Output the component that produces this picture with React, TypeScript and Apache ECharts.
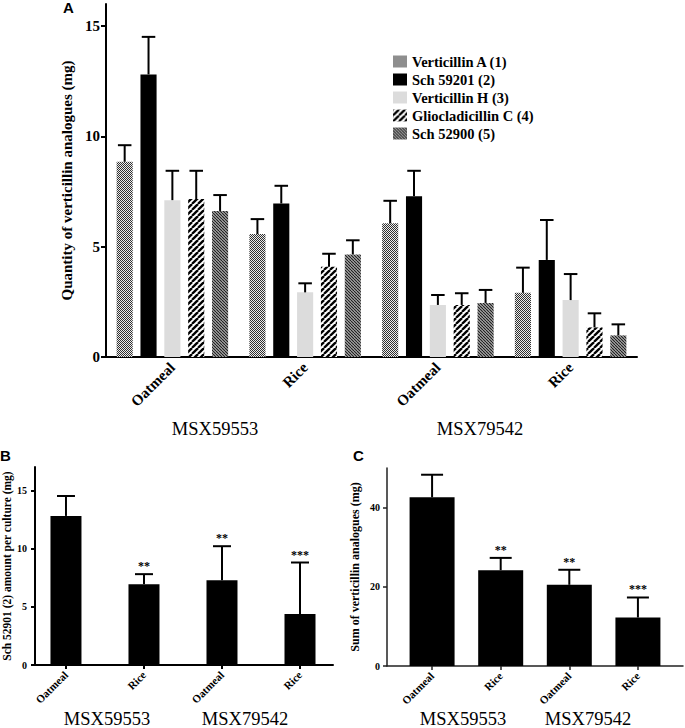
import React, { useEffect, useRef } from 'react';
import * as echarts from 'echarts';

// ---------- data ----------
const compounds = ['Verticillin A (1)', 'Sch 59201 (2)', 'Verticillin H (3)', 'Gliocladicillin C (4)', 'Sch 52900 (5)'];
const media = ['Oatmeal', 'Rice', 'Oatmeal', 'Rice'];
const strains = ['MSX59553', 'MSX79542'];

// Panel A: mean and SD per compound, order: 59553 Oatmeal, 59553 Rice, 79542 Oatmeal, 79542 Rice
const verticillinA = [8.85, 5.57, 6.06, 2.91];
const verticillinASd = [0.75, 0.68, 1.02, 1.14];
const sch59201 = [12.81, 6.96, 7.29, 4.4];
const sch59201Sd = [1.7, 0.8, 1.15, 1.81];
const verticillinH = [7.11, 2.93, 2.36, 2.58];
const verticillinHSd = [1.33, 0.41, 0.45, 1.18];
const gliocladicillinC = [7.16, 4.09, 2.36, 1.34];
const gliocladicillinCSd = [1.28, 0.59, 0.53, 0.64];
const sch52900 = [6.62, 4.65, 2.45, 0.98];
const sch52900Sd = [0.72, 0.64, 0.59, 0.5];

// Panel B: Sch 52901 (2) amount per culture
const panelB = [12.8, 6.94, 7.28, 4.37];
const panelBSd = [1.71, 0.86, 2.92, 4.43];
// Panel C: sum of verticillin analogues
const panelC = [42.6, 24.2, 20.5, 12.25];
const panelCSd = [5.7, 3.1, 3.8, 5.05];
const significance = ['', '**', '**', '***'];

const ticksA = [0, 5, 10, 15];
const ticksB = [0, 5, 10, 15];
const ticksC = [0, 20, 40];

// ---------- styling ----------
const SERIF = 'Liberation Serif, Times New Roman, serif';
const SANS = 'Liberation Sans, Arial, sans-serif';
const CAT_GAP = 0.16;
const BAR_GAP = 0.48;

function makePattern(size: number, draw: (ctx: CanvasRenderingContext2D, s: number) => void) {
  const c = document.createElement('canvas');
  c.width = size;
  c.height = size;
  const ctx = c.getContext('2d') as CanvasRenderingContext2D;
  draw(ctx, size);
  return { image: c.toDataURL(), repeat: 'repeat', imageWidth: size, imageHeight: size };
}

export default function App() {
  const ref = useRef<HTMLDivElement>(null);

  useEffect(() => {
    if (!ref.current) return;
    const chart = echarts.init(ref.current, undefined, { renderer: 'svg' });

    const checker = makePattern(2, (ctx) => {
      ctx.fillStyle = '#ececec';
      ctx.fillRect(0, 0, 2, 2);
      ctx.fillStyle = '#303030';
      ctx.fillRect(0, 0, 1, 1);
      ctx.fillRect(1, 1, 1, 1);
    });
    const stripes = makePattern(6, (ctx, s) => {
      ctx.fillStyle = '#ffffff';
      ctx.fillRect(0, 0, s, s);
      ctx.strokeStyle = '#000000';
      ctx.lineWidth = 2.3;
      for (let k = -1; k <= 1; k++) {
        ctx.beginPath();
        ctx.moveTo(k * s, s);
        ctx.lineTo(k * s + s, 0);
        ctx.stroke();
      }
    });
    const hatch = makePattern(3, (ctx, s) => {
      ctx.fillStyle = '#b0b0b0';
      ctx.fillRect(0, 0, s, s);
      ctx.strokeStyle = '#1c1c1c';
      ctx.lineWidth = 1.1;
      for (let k = -1; k <= 1; k++) {
        ctx.beginPath();
        ctx.moveTo(k * s, 0);
        ctx.lineTo(k * s + s, s);
        ctx.stroke();
      }
    });

    const fills: any[] = [checker, '#000000', '#dcdcdc', stripes, hatch];
    const means = [verticillinA, sch59201, verticillinH, gliocladicillinC, sch52900];
    const sds = [verticillinASd, sch59201Sd, verticillinHSd, gliocladicillinCSd, sch52900Sd];
    const N = compounds.length;

    const barSeriesA = compounds.map((name, i) => ({
      name,
      type: 'bar',
      xAxisIndex: 0,
      yAxisIndex: 0,
      data: means[i],
      barCategoryGap: CAT_GAP * 100 + '%',
      barGap: BAR_GAP * 100 + '%',
      itemStyle: { color: fills[i] },
      emphasis: { disabled: true },
    }));

    const errSeriesA = compounds.map((name, si) => ({
      type: 'custom',
      name: name + ' SD',
      xAxisIndex: 0,
      yAxisIndex: 0,
      data: means[si].map((m, ci) => [ci, m, sds[si][ci]]),
      encode: { x: 0, y: 1 },
      z: 3,
      renderItem: (params: any, api: any) => {
        const cat = api.value(0);
        const mean = api.value(1);
        const sd = api.value(2);
        const band = api.size([1, 0])[0];
        const w = (band * (1 - CAT_GAP)) / (N + (N - 1) * BAR_GAP);
        const total = N * w + (N - 1) * w * BAR_GAP;
        const off = -total / 2 + w / 2 + si * w * (1 + BAR_GAP);
        const p0 = api.coord([cat, mean]);
        const p1 = api.coord([cat, mean + sd]);
        const x = p0[0] + off;
        const cap = w * 0.42;
        return {
          type: 'group',
          children: [
            { type: 'line', shape: { x1: x, y1: p0[1], x2: x, y2: p1[1] }, style: { stroke: '#000', lineWidth: 2 } },
            { type: 'line', shape: { x1: x - cap, y1: p1[1], x2: x + cap, y2: p1[1] }, style: { stroke: '#000', lineWidth: 2 } },
          ],
        };
      },
    }));

    const errSimple = (xi: number, yi: number, vals: number[], sdv: number[], capHalf: number) => ({
      type: 'custom',
      xAxisIndex: xi,
      yAxisIndex: yi,
      data: vals.map((m, i) => [i, m, sdv[i]]),
      encode: { x: 0, y: 1 },
      z: 3,
      renderItem: (params: any, api: any) => {
        const idx = params.dataIndex;
        const x = api.value(0);
        const mean = api.value(1);
        const sd = api.value(2);
        const p0 = api.coord([x, mean]);
        const p1 = api.coord([x, mean + sd]);
        const children: any[] = [
          { type: 'line', shape: { x1: p0[0], y1: p0[1], x2: p0[0], y2: p1[1] }, style: { stroke: '#000', lineWidth: 2 } },
          { type: 'line', shape: { x1: p0[0] - capHalf, y1: p1[1], x2: p0[0] + capHalf, y2: p1[1] }, style: { stroke: '#000', lineWidth: 2 } },
        ];
        if (significance[idx]) {
          children.push({
            type: 'text',
            x: p0[0],
            y: p1[1] - 8,
            style: {
              text: significance[idx],
              fill: '#000',
              fontFamily: SERIF,
              fontWeight: 'bold',
              fontSize: 12,
              align: 'center',
              verticalAlign: 'middle',
            },
          });
        }
        return { type: 'group', children };
      },
    });

    const axisLineStyle = { color: '#000', width: 2 };
    const lineC = { color: '#222', width: 1.5 };
    const smallLabel = { fontFamily: SERIF, fontWeight: 'bold', fontSize: 10, color: '#000' };

    const option: any = {
      animation: false,
      backgroundColor: '#ffffff',
      legend: {
        data: compounds,
        orient: 'vertical',
        left: 388,
        top: 49,
        itemWidth: 14,
        itemHeight: 12,
        itemGap: 3,
        icon: 'rect',
        selectedMode: false,
        textStyle: { fontFamily: SERIF, fontWeight: 'bold', fontSize: 14.5, color: '#000' },
      },
      grid: [
        { left: 106, top: 4, right: 48, bottom: 371 },
        { left: 35, top: 467, right: 352, bottom: 63 },
        { left: 387, top: 468, right: 2, bottom: 62 },
      ],
      xAxis: [
        {
          type: 'category',
          gridIndex: 0,
          data: media,
          axisLine: { onZero: false, lineStyle: axisLineStyle },
          axisTick: { alignWithLabel: true, length: 5, lineStyle: axisLineStyle },
          axisLabel: { rotate: 45, margin: 8, fontFamily: SERIF, fontWeight: 'bold', fontSize: 15, color: '#000' },
        },
        {
          type: 'value',
          gridIndex: 1,
          min: -0.397,
          max: 3.423,
          splitLine: { show: false },
          axisLine: { onZero: false, lineStyle: axisLineStyle },
          axisTick: { show: true, length: 4, customValues: [0, 1, 2, 3], lineStyle: axisLineStyle },
          axisLabel: { ...smallLabel, fontSize: 11, rotate: 45, margin: 8, customValues: [0, 1, 2, 3], formatter: (v: number) => media[Math.round(v)] ?? '' },
        },
        {
          type: 'value',
          gridIndex: 2,
          min: -0.657,
          max: 3.657,
          splitLine: { show: false },
          axisLine: { onZero: false, lineStyle: lineC },
          axisTick: { show: true, length: 4, customValues: [0, 1, 2, 3], lineStyle: lineC },
          axisLabel: { ...smallLabel, fontSize: 11, rotate: 45, margin: 8, customValues: [0, 1, 2, 3], formatter: (v: number) => media[Math.round(v)] ?? '' },
        },
      ],
      yAxis: [
        {
          type: 'value',
          gridIndex: 0,
          min: 0,
          max: 16,
          splitLine: { show: false },
          axisLine: { show: true, onZero: false, lineStyle: axisLineStyle },
          axisTick: { show: true, length: 5, customValues: ticksA, lineStyle: axisLineStyle },
          axisLabel: { customValues: ticksA, margin: 6, fontFamily: SERIF, fontWeight: 'bold', fontSize: 15, color: '#000' },
          name: 'Quantity of verticillin analogues (mg)',
          nameLocation: 'middle',
          nameGap: 27,
          nameTextStyle: { fontFamily: SERIF, fontWeight: 'bold', fontSize: 15, color: '#000' },
        },
        {
          type: 'value',
          gridIndex: 1,
          min: 0,
          max: 17,
          splitLine: { show: false },
          axisLine: { show: true, onZero: false, lineStyle: axisLineStyle },
          axisTick: { show: true, length: 4, customValues: ticksB, lineStyle: axisLineStyle },
          axisLabel: { ...smallLabel, customValues: ticksB, margin: 8 },
          name: 'Sch 52901 (2) amount per culture (mg)',
          nameLocation: 'middle',
          nameGap: 22,
          nameTextStyle: { fontFamily: SERIF, fontWeight: 'bold', fontSize: 11.5, color: '#000' },
        },
        {
          type: 'value',
          gridIndex: 2,
          min: 0,
          max: 50,
          splitLine: { show: false },
          axisLine: { show: true, onZero: false, lineStyle: lineC },
          axisTick: { show: true, length: 4, customValues: ticksC, lineStyle: lineC },
          axisLabel: { ...smallLabel, customValues: ticksC, margin: 7 },
          name: 'Sum of verticillin analogues (mg)',
          nameLocation: 'middle',
          nameGap: 26,
          nameTextStyle: { fontFamily: SERIF, fontWeight: 'bold', fontSize: 12, color: '#000' },
        },
      ],
      series: [
        ...barSeriesA,
        ...errSeriesA,
        {
          type: 'bar',
          name: 'Sch 52901 (2) amount',
          xAxisIndex: 1,
          yAxisIndex: 1,
          barWidth: 31,
          data: panelB.map((v, i) => [i, v]),
          itemStyle: { color: '#000' },
        },
        errSimple(1, 1, panelB, panelBSd, 9),
        {
          type: 'bar',
          name: 'Sum of verticillin analogues',
          xAxisIndex: 2,
          yAxisIndex: 2,
          barWidth: 45,
          data: panelC.map((v, i) => [i, v]),
          itemStyle: { color: '#000' },
        },
        errSimple(2, 2, panelC, panelCSd, 11),
      ],
      graphic: [
        { type: 'text', x: 63, y: 7, style: { text: 'A', fontFamily: SANS, fontWeight: 'bold', fontSize: 15, fill: '#000', verticalAlign: 'middle' } },
        { type: 'text', x: 0, y: 455, style: { text: 'B', fontFamily: SANS, fontWeight: 'bold', fontSize: 15, fill: '#000', verticalAlign: 'middle' } },
        { type: 'text', x: 353, y: 455, style: { text: 'C', fontFamily: SANS, fontWeight: 'bold', fontSize: 15, fill: '#000', verticalAlign: 'middle' } },
        { type: 'text', x: 215, y: 429, style: { text: strains[0], fontFamily: SERIF, fontSize: 18.5, fill: '#000', align: 'center', verticalAlign: 'middle' } },
        { type: 'text', x: 480, y: 429, style: { text: strains[1], fontFamily: SERIF, fontSize: 18.5, fill: '#000', align: 'center', verticalAlign: 'middle' } },
        { type: 'text', x: 107, y: 719, style: { text: strains[0], fontFamily: SERIF, fontSize: 18.5, fill: '#000', align: 'center', verticalAlign: 'middle' } },
        { type: 'text', x: 245, y: 719, style: { text: strains[1], fontFamily: SERIF, fontSize: 18.5, fill: '#000', align: 'center', verticalAlign: 'middle' } },
        { type: 'text', x: 463, y: 719, style: { text: strains[0], fontFamily: SERIF, fontSize: 18.5, fill: '#000', align: 'center', verticalAlign: 'middle' } },
        { type: 'text', x: 588, y: 719, style: { text: strains[1], fontFamily: SERIF, fontSize: 18.5, fill: '#000', align: 'center', verticalAlign: 'middle' } },
      ],
    };

    chart.setOption(option);
    return () => chart.dispose();
  }, []);

  return <div ref={ref} style={{ position: 'fixed', left: 0, top: 0, width: 685, height: 728, background: '#fff' }} />;
}
